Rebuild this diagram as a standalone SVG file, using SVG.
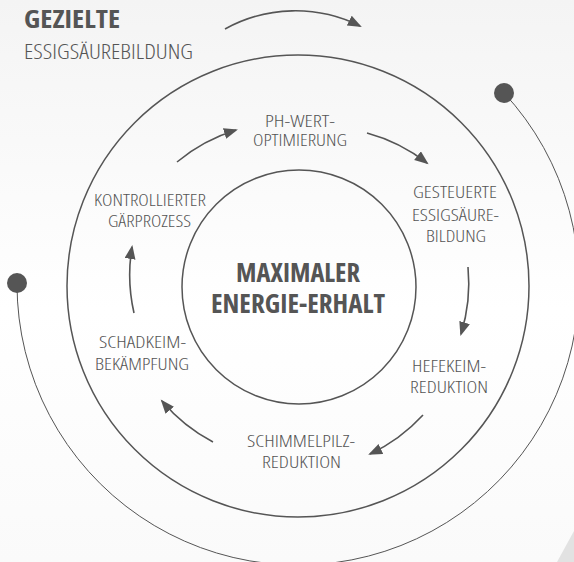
<svg xmlns="http://www.w3.org/2000/svg" width="574" height="562" viewBox="0 0 574 562">
<defs>
<linearGradient id="bg" x1="0" y1="0" x2="0" y2="1">
<stop offset="0" stop-color="#f4f4f4"/>
<stop offset="0.55" stop-color="#ffffff"/>
<stop offset="1" stop-color="#fafafa"/>
</linearGradient>
<marker id="ah" markerUnits="userSpaceOnUse" markerWidth="16" markerHeight="12" refX="12" refY="5.5" orient="auto">
<path d="M0,0 L14,5.5 L0,11 z" fill="#555"/>
</marker>
<style>
text{font-family:"Open Sans","Liberation Sans",sans-serif;font-stretch:condensed;fill:#555;}
.lbl{font-size:16.5px;font-weight:300;text-anchor:middle;}
.big{font-size:26px;font-weight:bold;text-anchor:middle;}
.ring{fill:none;stroke:#555;stroke-width:1.5;}
.arr{fill:none;stroke:#555;stroke-width:1.6;marker-end:url(#ah);}
.dot{fill:#555;}
</style>
</defs>
<rect width="574" height="562" fill="url(#bg)"/>
<polygon points="557,562 574,531 574,562" fill="#e2e2e2"/>

<g id="title">
<text x="24" y="28" font-size="25" font-weight="bold" textLength="96" lengthAdjust="spacingAndGlyphs">GEZIELTE</text>
<text x="24" y="59" font-size="19.5" font-weight="300" textLength="169" lengthAdjust="spacingAndGlyphs">ESSIGSÄUREBILDUNG</text>
</g>

<g id="rings">
<circle class="ring" cx="298" cy="286" r="231"/>
<circle class="ring" cx="299" cy="287" r="117"/>
<path d="M17,284 A281,281 0 1 0 503.5,92.4" fill="none" stroke="#555" stroke-width="1"/>
<circle class="dot" cx="17" cy="283" r="10"/>
<circle class="dot" cx="504" cy="93" r="10"/>
</g>

<g id="connectors">
<path class="arr" d="M225,29 A145,145 0 0 1 360,26"/>
<path class="arr" d="M177,162 A170,170 0 0 1 236,130"/>
<path class="arr" d="M367,133 A170,170 0 0 1 427,163"/>
<path class="arr" d="M468,267 A170,170 0 0 1 461,334"/>
<path class="arr" d="M423,415 A170,170 0 0 1 370,454"/>
<path class="arr" d="M213,442 A170,170 0 0 1 162,401"/>
<path class="arr" d="M134,313 A170,170 0 0 1 132,247"/>
</g>

<g id="center">
<text class="big" x="298" y="282" textLength="124" lengthAdjust="spacingAndGlyphs">MAXIMALER</text>
<text class="big" x="298" y="313" textLength="174" lengthAdjust="spacingAndGlyphs">ENERGIE-ERHALT</text>
</g>

<g id="ph-wert">
<text class="lbl" x="300" y="127" textLength="70" lengthAdjust="spacingAndGlyphs">PH-WERT-</text>
<text class="lbl" x="300" y="146" textLength="94" lengthAdjust="spacingAndGlyphs">OPTIMIERUNG</text>
</g>

<g id="essigsaeure">
<text class="lbl" x="455" y="198" textLength="84" lengthAdjust="spacingAndGlyphs">GESTEUERTE</text>
<text class="lbl" x="455.5" y="221" textLength="87" lengthAdjust="spacingAndGlyphs">ESSIGSÄURE-</text>
<text class="lbl" x="456" y="242" textLength="60" lengthAdjust="spacingAndGlyphs">BILDUNG</text>
</g>

<g id="hefekeim">
<text class="lbl" x="449" y="372" textLength="74" lengthAdjust="spacingAndGlyphs">HEFEKEIM-</text>
<text class="lbl" x="449" y="393" textLength="78" lengthAdjust="spacingAndGlyphs">REDUKTION</text>
</g>

<g id="schimmelpilz">
<text class="lbl" x="301" y="447" textLength="108" lengthAdjust="spacingAndGlyphs">SCHIMMELPILZ-</text>
<text class="lbl" x="301.5" y="468" textLength="79" lengthAdjust="spacingAndGlyphs">REDUKTION</text>
</g>

<g id="schadkeim">
<text class="lbl" x="142.5" y="348" textLength="87" lengthAdjust="spacingAndGlyphs">SCHADKEIM-</text>
<text class="lbl" x="142" y="370" textLength="94" lengthAdjust="spacingAndGlyphs">BEKÄMPFUNG</text>
</g>

<g id="gaerprozess">
<text class="lbl" x="150" y="206" textLength="112" lengthAdjust="spacingAndGlyphs">KONTROLLIERTER</text>
<text class="lbl" x="149.5" y="227" textLength="83" lengthAdjust="spacingAndGlyphs">GÄRPROZESS</text>
</g>
</svg>
